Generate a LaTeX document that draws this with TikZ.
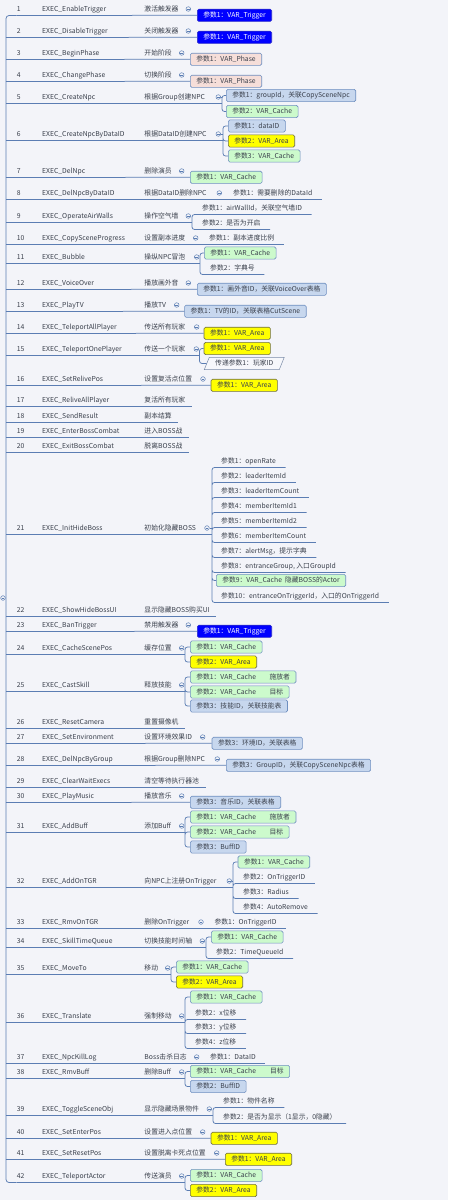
\documentclass[tikz,border=0pt]{standalone}
\usepackage{fontspec}
\setmainfont{Noto Sans CJK SC}
\usepackage{tikz}
\usetikzlibrary{shapes.geometric}

\definecolor{bgc}{HTML}{F3F4F9}
\definecolor{linec}{HTML}{5B7DB3}
\definecolor{txtc}{HTML}{3A404C}
\definecolor{boxc}{HTML}{6F8FC0}
\definecolor{trigc}{HTML}{0000FF}
\definecolor{trigl}{HTML}{2A2ACC}
\definecolor{phasec}{HTML}{F6DED9}
\definecolor{refc}{HTML}{C7D7EE}
\definecolor{cachec}{HTML}{CCFACC}
\definecolor{areac}{HTML}{FFFF00}
\definecolor{areal}{HTML}{6E6E45}
\definecolor{passc}{HTML}{F6F7FB}
\definecolor{passl}{HTML}{7A8BA8}

% number, exec name, description in three columns
\newcommand{\erow}[3]{\makebox[25.3pt][l]{#1}\makebox[102.3pt][l]{#2}#3}

\begin{document}
\begin{tikzpicture}[
    x=1pt, y=-1pt,
    font=\fontsize{6.8}{8}\selectfont,
    every node/.style={text=txtc, text height=5.6pt, text depth=1.4pt},
    topic/.style={anchor=west, inner xsep=0pt, inner ysep=2.8pt},
    ptext/.style={anchor=west, inner xsep=9.5pt, inner ysep=2.8pt},
    pbox/.style={anchor=west, draw=boxc, rounded corners=1.5pt, inner xsep=6pt, inner ysep=2.6pt, line width=0.6pt},
    ptrig/.style={pbox, fill=trigc, draw=trigl, text=white},
    pphase/.style={pbox, fill=phasec},
    pref/.style={pbox, fill=refc},
    pcache/.style={pbox, fill=cachec},
    parea/.style={pbox, fill=areac, draw=areal},
    ppass/.style={anchor=west, trapezium, trapezium left angle=68, trapezium right angle=112, draw=passl, fill=passc, inner xsep=6pt, inner ysep=2.6pt, line width=0.5pt},
    fold/.style={circle, draw=linec, fill=bgc, inner sep=0pt, minimum size=4.6pt, text height=0pt, text depth=0pt, line width=0.5pt,
        path picture={\draw[linec, line width=0.45pt] ([xshift=0.9pt]path picture bounding box.west) -- ([xshift=-0.9pt]path picture bounding box.east);}},
    branch/.style={draw=linec, line width=0.75pt},
    spine/.style={branch, rounded corners=2.5pt}
]
    \path[fill=bgc, use as bounding box] (0,0) rectangle (448,1200);
    \coordinate (rx) at (6,598);

    % 1
    \node[topic] (e1) at (16.7,9) {\erow{1}{EXEC\_EnableTrigger}{激活触发器}};
    \node[ptrig] (p1) at (197,15.3) {参数1：VAR\_Trigger};
    \draw[branch] (e1.south west) -- (p1.west);
    \node[fold] (f1) at (188.3,9) {};
    % 2
    \node[topic] (e2) at (16.7,31) {\erow{2}{EXEC\_DisableTrigger}{关闭触发器}};
    \node[ptrig] (p2) at (197,37.3) {参数1：VAR\_Trigger};
    \draw[branch] (rx |- e2.south) -- (p2.west);
    \node[fold] (f2) at (188.3,31) {};
    % 3
    \node[topic] (e3) at (16.7,53) {\erow{3}{EXEC\_BeginPhase}{开始阶段}};
    \node[pphase] (p3) at (190,59.3) {参数1：VAR\_Phase};
    \draw[branch] (rx |- e3.south) -- (p3.west);
    \node[fold] (f3) at (181.7,53) {};
    % 4
    \node[topic] (e4) at (16.7,75) {\erow{4}{EXEC\_ChangePhase}{切换阶段}};
    \node[pphase] (p4) at (190,81.3) {参数1：VAR\_Phase};
    \draw[branch] (rx |- e4.south) -- (p4.west);
    \node[fold] (f4) at (181.7,75) {};
    % 5
    \node[topic] (e5) at (16.7,97) {\erow{5}{EXEC\_CreateNpc}{根据Group创建NPC}};
    \node[pref] (p5a) at (226,95.5) {参数1：groupId，关联CopySceneNpc};
    \node[pcache] (p5b) at (226,111.5) {参数2：VAR\_Cache};
    \coordinate (s5) at (222,0 |- e5.south);
    \draw[branch] (rx |- e5.south) -- (s5);
    \draw[spine] (s5) |- (p5a.west) (s5) |- (p5b.west);
    \node[fold] (f5) at (218.3,97) {};
    \draw[branch] (f5.east) -- (s5 |- f5);
    % 6
    \node[topic] (e6) at (16.7,134) {\erow{6}{EXEC\_CreateNpcByDataID}{根据DataID创建NPC}};
    \node[pref] (p6a) at (228,126) {参数1：dataID};
    \node[parea] (p6b) at (228,141) {参数2：VAR\_Area};
    \node[pcache] (p6c) at (228,156) {参数3：VAR\_Cache};
    \coordinate (s6) at (223,0 |- e6.south);
    \draw[branch] (rx |- e6.south) -- (s6);
    \draw[spine] (s6) |- (p6a.west) (s6) |- (p6b.west) (s6) |- (p6c.west);
    \node[fold] (f6) at (218.3,134) {};
    \draw[branch] (f6.east) -- (s6 |- f6);
    % 7
    \node[topic] (e7) at (16.7,171) {\erow{7}{EXEC\_DelNpc}{删除演员}};
    \node[pcache] (p7) at (190,177.3) {参数1：VAR\_Cache};
    \draw[branch] (rx |- e7.south) -- (p7.west);
    \node[fold] (f7) at (181.7,171) {};
    % 8
    \node[topic] (e8) at (16.7,193) {\erow{8}{EXEC\_DelNpcByDataID}{根据DataID删除NPC}};
    \node[ptext] (p8) at (223.5,193) {参数1：需要删除的DataId};
    \draw[branch] (rx |- e8.south) -- (p8.south east);
    \node[fold] (f8) at (219.3,193) {};
    % 9
    \node[topic] (e9) at (16.7,216) {\erow{9}{EXEC\_OperateAirWalls}{操作空气墙}};
    \node[ptext] (p9a) at (192.5,208) {参数1：airWallId，关联空气墙ID};
    \node[ptext] (p9b) at (192.5,223) {参数2：是否为开启};
    \coordinate (s9) at (192,0 |- e9.south);
    \draw[branch] (rx |- e9.south) -- (s9);
    \draw[spine] (s9) |- (p9a.south east) (s9) |- (p9b.south east);
    \node[fold] (f9) at (188.3,216) {};
    % 10
    \node[topic] (e10) at (16.7,238) {\erow{10}{EXEC\_CopySceneProgress}{设置副本进度}};
    \node[ptext] (p10) at (199.5,238) {参数1：副本进度比例};
    \draw[branch] (rx |- e10.south) -- (p10.south east);
    \node[fold] (f10) at (195.7,238) {};
    % 11
    \node[topic] (e11) at (16.7,257) {\erow{11}{EXEC\_Bubble}{操纵NPC冒泡}};
    \node[pcache] (p11a) at (204,253) {参数1：VAR\_Cache};
    \node[ptext] (p11b) at (200.5,268) {参数2：字典号};
    \coordinate (s11) at (200,0 |- e11.south);
    \draw[branch] (rx |- e11.south) -- (s11);
    \draw[spine] (s11) |- (p11a.west) (s11) |- (p11b.south east);
    \node[fold] (f11) at (196.7,257) {};
    % 12
    \node[topic] (e12) at (16.7,283) {\erow{12}{EXEC\_VoiceOver}{播放画外音}};
    \node[pref] (p12) at (197,289.3) {参数1：画外音ID，关联VoiceOver表格};
    \draw[branch] (rx |- e12.south) -- (p12.west);
    \node[fold] (f12) at (188.3,283) {};
    % 13
    \node[topic] (e13) at (16.7,305) {\erow{13}{EXEC\_PlayTV}{播放TV}};
    \node[pref] (p13) at (184.3,311.3) {参数1：TV的ID，关联表格CutScene};
    \draw[branch] (rx |- e13.south) -- (p13.west);
    \node[fold] (f13) at (176.7,305) {};
    % 14
    \node[topic] (e14) at (16.7,327) {\erow{14}{EXEC\_TeleportAllPlayer}{传送所有玩家}};
    \node[parea] (p14) at (203.7,333.3) {参数1：VAR\_Area};
    \draw[branch] (rx |- e14.south) -- (p14.west);
    \node[fold] (f14) at (196.7,327) {};
    % 15
    \node[topic] (e15) at (16.7,349) {\erow{15}{EXEC\_TeleportOnePlayer}{传送一个玩家}};
    \node[parea] (p15a) at (203.7,348.5) {参数1：VAR\_Area};
    \node[ppass] (p15b) at (206.5,363.5) {传递参数1：玩家ID};
    \coordinate (s15) at (199.5,0 |- e15.south);
    \draw[branch] (rx |- e15.south) -- (s15);
    \draw[spine] (s15) |- (p15a.west) (s15) |- (p15b.west);
    \node[fold] (f15) at (196.3,349) {};
    % 16
    \node[topic] (e16) at (16.7,379) {\erow{16}{EXEC\_SetRelivePos}{设置复活点位置}};
    \node[parea] (p16) at (210.7,385.3) {参数1：VAR\_Area};
    \draw[branch] (rx |- e16.south) -- (p16.west);
    \node[fold] (f16) at (203,379) {};
    % 17 - 20
    \node[topic] (e17) at (16.7,400) {\erow{17}{EXEC\_ReliveAllPlayer}{复活所有玩家}};
    \draw[branch] (rx |- e17.south) -- ([xshift=6.5pt]e17.south east);
    \node[topic] (e18) at (16.7,416) {\erow{18}{EXEC\_SendResult}{副本结算}};
    \draw[branch] (rx |- e18.south) -- ([xshift=6.5pt]e18.south east);
    \node[topic] (e19) at (16.7,431) {\erow{19}{EXEC\_EnterBossCombat}{进入BOSS战}};
    \draw[branch] (rx |- e19.south) -- ([xshift=6.5pt]e19.south east);
    \node[topic] (e20) at (16.7,446) {\erow{20}{EXEC\_ExitBossCombat}{脱离BOSS战}};
    \draw[branch] (rx |- e20.south) -- ([xshift=6.5pt]e20.south east);
    % 21
    \node[topic] (e21) at (16.7,528) {\erow{21}{EXEC\_InitHideBoss}{初始化隐藏BOSS}};
    \node[ptext] (p21a) at (211.5,461) {参数1：openRate};
    \node[ptext] (p21b) at (211.5,476) {参数2：leaderItemId};
    \node[ptext] (p21c) at (211.5,491) {参数3：leaderItemCount};
    \node[ptext] (p21d) at (211.5,506) {参数4：memberItemId1};
    \node[ptext] (p21e) at (211.5,521) {参数5：memberItemId2};
    \node[ptext] (p21f) at (211.5,536) {参数6：memberItemCount};
    \node[ptext] (p21g) at (211.5,551) {参数7：alertMsg，提示字典};
    \node[ptext] (p21h) at (211.5,566) {参数8：entranceGroup, 入口GroupId};
    \node[pcache] (p21i) at (216,580.5) {参数9：VAR\_Cache\hspace{3pt}隐藏BOSS的Actor};
    \node[ptext] (p21j) at (211.5,596) {参数10：entranceOnTriggerId，入口的OnTriggerId};
    \coordinate (s21) at (212,0 |- e21.south);
    \draw[branch] (rx |- e21.south) -- (s21);
    \draw[spine] (s21) |- (p21a.south east) (s21) |- (p21b.south east) (s21) |- (p21c.south east)
        (s21) |- (p21d.south east) (s21) |- (p21e.south east) (s21) |- (p21f.south east)
        (s21) |- (p21g.south east) (s21) |- (p21h.south east) (s21) |- (p21i.west)
        (s21) |- (p21j.south east);
    \node[fold] (f21) at (207,528) {};
    \draw[branch] (f21.east) -- (s21 |- f21);
    % 22
    \node[topic] (e22) at (16.7,610) {\erow{22}{EXEC\_ShowHideBossUI}{显示隐藏BOSS购买UI}};
    \draw[branch] (rx |- e22.south) -- ([xshift=6.5pt]e22.south east);
    % 23
    \node[topic] (e23) at (16.7,625) {\erow{23}{EXEC\_BanTrigger}{禁用触发器}};
    \node[ptrig] (p23) at (197,631.3) {参数1：VAR\_Trigger};
    \draw[branch] (rx |- e23.south) -- (p23.west);
    \node[fold] (f23) at (188.3,625) {};
    % 24
    \node[topic] (e24) at (16.7,648) {\erow{24}{EXEC\_CacheScenePos}{缓存位置}};
    \node[pcache] (p24a) at (190,647) {参数1：VAR\_Cache};
    \node[parea] (p24b) at (190,662) {参数2：VAR\_Area};
    \coordinate (s24) at (185,0 |- e24.south);
    \draw[branch] (rx |- e24.south) -- (s24);
    \draw[spine] (s24) |- (p24a.west) (s24) |- (p24b.west);
    \node[fold] (f24) at (181.7,648) {};
    % 25
    \node[topic] (e25) at (16.7,685) {\erow{25}{EXEC\_CastSkill}{释放技能}};
    \node[pcache] (p25a) at (190,677) {参数1：VAR\_Cache\hspace{13.5pt}施放者};
    \node[pcache] (p25b) at (190,692) {参数2：VAR\_Cache\hspace{13.5pt}目标};
    \node[pref] (p25c) at (190,706) {参数3：技能ID，关联技能表};
    \coordinate (s25) at (185,0 |- e25.south);
    \draw[branch] (rx |- e25.south) -- (s25);
    \draw[spine] (s25) |- (p25a.west) (s25) |- (p25b.west) (s25) |- (p25c.west);
    \node[fold] (f25) at (181.7,685) {};
    % 26
    \node[topic] (e26) at (16.7,722) {\erow{26}{EXEC\_ResetCamera}{重置摄像机}};
    \draw[branch] (rx |- e26.south) -- ([xshift=6.5pt]e26.south east);
    % 27
    \node[topic] (e27) at (16.7,737) {\erow{27}{EXEC\_SetEnvironment}{设置环境效果ID}};
    \node[pref] (p27) at (211.7,743.3) {参数3：环境ID，关联表格};
    \draw[branch] (rx |- e27.south) -- (p27.west);
    \node[fold] (f27) at (202.7,737) {};
    % 28
    \node[topic] (e28) at (16.7,759) {\erow{28}{EXEC\_DelNpcByGroup}{根据Group删除NPC}};
    \node[pref] (p28) at (226,765.3) {参数3：GroupID，关联CopySceneNpc表格};
    \draw[branch] (rx |- e28.south) -- (p28.west);
    \node[fold] (f28) at (217.3,759) {};
    % 29
    \node[topic] (e29) at (16.7,781) {\erow{29}{EXEC\_ClearWaitExecs}{清空等待执行器池}};
    \draw[branch] (rx |- e29.south) -- ([xshift=6.5pt]e29.south east);
    % 30
    \node[topic] (e30) at (16.7,796) {\erow{30}{EXEC\_PlayMusic}{播放音乐}};
    \node[pref] (p30) at (190,802.3) {参数3：音乐ID，关联表格};
    \draw[branch] (rx |- e30.south) -- (p30.west);
    \node[fold] (f30) at (181.7,796) {};
    % 31
    \node[topic] (e31) at (16.7,826) {\erow{31}{EXEC\_AddBuff}{添加Buff}};
    \node[pcache] (p31a) at (190,817) {参数1：VAR\_Cache\hspace{13.5pt}施放者};
    \node[pcache] (p31b) at (190,832) {参数2：VAR\_Cache\hspace{13.5pt}目标};
    \node[pref] (p31c) at (190,847) {参数3：BuffID};
    \coordinate (s31) at (185,0 |- e31.south);
    \draw[branch] (rx |- e31.south) -- (s31);
    \draw[spine] (s31) |- (p31a.west) (s31) |- (p31b.west) (s31) |- (p31c.west);
    \node[fold] (f31) at (181.7,826) {};
    % 32
    \node[topic] (e32) at (16.7,881) {\erow{32}{EXEC\_AddOnTGR}{向NPC上注册OnTrigger}};
    \node[pcache] (p32a) at (237.7,862) {参数1：VAR\_Cache};
    \node[ptext] (p32b) at (233.5,877) {参数2：OnTriggerID};
    \node[ptext] (p32c) at (233.5,892) {参数3：Radius};
    \node[ptext] (p32d) at (233.5,907) {参数4：AutoRemove};
    \coordinate (s32) at (233,0 |- e32.south);
    \draw[branch] (rx |- e32.south) -- (s32);
    \draw[spine] (s32) |- (p32a.west) (s32) |- (p32b.south east) (s32) |- (p32c.south east) (s32) |- (p32d.south east);
    \node[fold] (f32) at (229.3,881) {};
    \draw[branch] (f32.east) -- (s32 |- f32);
    % 33
    \node[topic] (e33) at (16.7,922) {\erow{33}{EXEC\_RmvOnTGR}{删除OnTrigger}};
    \node[ptext] (p33) at (204.8,922) {参数1：OnTriggerID};
    \draw[branch] (rx |- e33.south) -- (p33.south east);
    \node[fold] (f33) at (201,922) {};
    % 34
    \node[topic] (e34) at (16.7,941) {\erow{34}{EXEC\_SkillTimeQueue}{切换技能时间轴}};
    \node[pcache] (p34a) at (211,937) {参数1：VAR\_Cache};
    \node[ptext] (p34b) at (206.5,952) {参数2：TimeQueueId};
    \coordinate (s34) at (206,0 |- e34.south);
    \draw[branch] (rx |- e34.south) -- (s34);
    \draw[spine] (s34) |- (p34a.west) (s34) |- (p34b.south east);
    \node[fold] (f34) at (202.3,941) {};
    % 35
    \node[topic] (e35) at (16.7,968) {\erow{35}{EXEC\_MoveTo}{移动}};
    \node[pcache] (p35a) at (176,967) {参数1：VAR\_Cache};
    \node[parea] (p35b) at (176,982) {参数2：VAR\_Area};
    \coordinate (s35) at (171,0 |- e35.south);
    \draw[branch] (rx |- e35.south) -- (s35);
    \draw[spine] (s35) |- (p35a.west) (s35) |- (p35b.west);
    \node[fold] (f35) at (167.7,968) {};
    % 36
    \node[topic] (e36) at (16.7,1016) {\erow{36}{EXEC\_Translate}{强制移动}};
    \node[pcache] (p36a) at (190,997) {参数1：VAR\_Cache};
    \node[ptext] (p36b) at (185.5,1013) {参数2：x位移};
    \node[ptext] (p36c) at (185.5,1027) {参数3：y位移};
    \node[ptext] (p36d) at (185.5,1042) {参数4：z位移};
    \coordinate (s36) at (185,0 |- e36.south);
    \draw[branch] (rx |- e36.south) -- (s36);
    \draw[spine] (s36) |- (p36a.west) (s36) |- (p36b.south east) (s36) |- (p36c.south east) (s36) |- (p36d.south east);
    \node[fold] (f36) at (181.7,1016) {};
    % 37
    \node[topic] (e37) at (16.7,1057) {\erow{37}{EXEC\_NpcKillLog}{Boss击杀日志}};
    \node[ptext] (p37) at (200.5,1057) {参数1：DataID};
    \draw[branch] (rx |- e37.south) -- (p37.south east);
    \node[fold] (f37) at (196.7,1057) {};
    % 38
    \node[topic] (e38) at (16.7,1072) {\erow{38}{EXEC\_RmvBuff}{删除Buff}};
    \node[pcache] (p38a) at (190,1071.5) {参数1：VAR\_Cache\hspace{14pt}目标};
    \node[pref] (p38b) at (190,1086.5) {参数2：BuffID};
    \coordinate (s38) at (185,0 |- e38.south);
    \draw[branch] (rx |- e38.south) -- (s38);
    \draw[spine] (s38) |- (p38a.west) (s38) |- (p38b.west);
    \node[fold] (f38) at (181.7,1072) {};
    % 39
    \node[topic] (e39) at (16.7,1109) {\erow{39}{EXEC\_ToggleSceneObj}{显示隐藏场景物件}};
    \node[ptext] (p39a) at (213.5,1101) {参数1：物件名称};
    \node[ptext] (p39b) at (213.5,1117) {参数2：是否为显示（1显示，0隐藏）};
    \coordinate (s39) at (213,0 |- e39.south);
    \draw[branch] (rx |- e39.south) -- (s39);
    \draw[spine] (s39) |- (p39a.south east) (s39) |- (p39b.south east);
    \node[fold] (f39) at (209.3,1109) {};
    % 40
    \node[topic] (e40) at (16.7,1132) {\erow{40}{EXEC\_SetEnterPos}{设置进入点位置}};
    \node[parea] (p40) at (210.7,1138.3) {参数1：VAR\_Area};
    \draw[branch] (rx |- e40.south) -- (p40.west);
    \node[fold] (f40) at (202.7,1132) {};
    % 41
    \node[topic] (e41) at (16.7,1153) {\erow{41}{EXEC\_SetResetPos}{设置脱离卡死点位置}};
    \node[parea] (p41) at (225,1159.3) {参数1：VAR\_Area};
    \draw[branch] (rx |- e41.south) -- (p41.west);
    \node[fold] (f41) at (216.7,1153) {};
    % 42
    \node[topic] (e42) at (16.7,1176) {\erow{42}{EXEC\_TeleportActor}{传送演员}};
    \node[pcache] (p42a) at (190,1175.5) {参数1：VAR\_Cache};
    \node[parea] (p42b) at (190,1190.5) {参数2：VAR\_Area};
    \coordinate (s42) at (185,0 |- e42.south);
    \draw[branch] (e42.south west) -- (s42);
    \draw[spine] (s42) |- (p42a.west) (s42) |- (p42b.west);
    \node[fold] (f42) at (181.7,1176) {};

    % root line
    \draw[branch, rounded corners=3pt] (e1.south west) -| (rx) |- (e42.south west);
    \node[fold] (root) at (3,598) {};
\end{tikzpicture}
\end{document}
